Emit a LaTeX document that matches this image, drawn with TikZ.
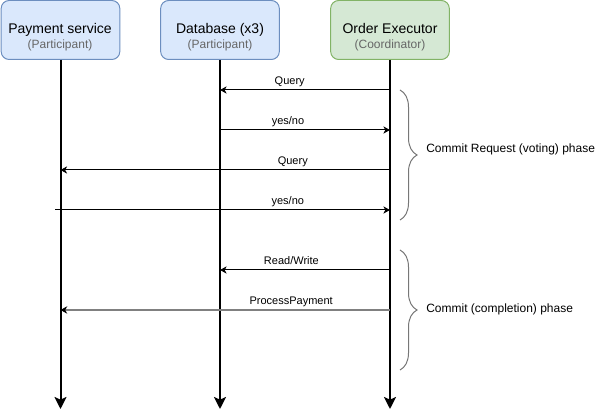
\documentclass[tikz,border=0pt]{standalone}
\usepackage{fontspec}
\setmainfont{Liberation Sans}
\usetikzlibrary{arrows.meta,positioning,decorations.pathreplacing}
\definecolor{partfill}{HTML}{DAE8FC}
\definecolor{partline}{HTML}{6C8EBF}
\definecolor{coordfill}{HTML}{D5E8D4}
\definecolor{coordline}{HTML}{82B366}
\definecolor{rolegray}{HTML}{666666}
\definecolor{bracegray}{HTML}{777777}
\definecolor{paygray}{HTML}{808080}
\tikzset{
  actor/.style={rounded corners=6pt, line width=0.75pt, minimum width=89pt, minimum height=44.25pt},
  actortitle/.style={anchor=base, inner sep=0pt, font=\fontsize{10.5}{12}\selectfont},
  actorrole/.style={anchor=base, inner sep=0pt, text=rolegray, font=\fontsize{9}{10}\selectfont},
  lifeline/.style={line width=1.5pt, -{Stealth[length=9pt, width=9pt, inset=2pt]}},
  msg/.style={line width=0.75pt, -{Stealth[length=5pt, width=5.5pt, inset=1.5pt, color=black]}},
  msglabel/.style={anchor=base, inner sep=0pt, yshift=4pt, font=\fontsize{8.25}{10}\selectfont},
  phase/.style={decorate, decoration={brace, amplitude=12.75pt}, draw=bracegray, line width=0.75pt},
  phaselabel/.style={anchor=west, inner sep=0pt, font=\fontsize{9}{10}\selectfont}
}
\begin{document}
\begin{tikzpicture}[x=0.75pt,y=-0.75pt]
  \useasboundingbox (0,0) rectangle (601,420);

  % participants
  \node[actor, draw=partline, fill=partfill] (pay) at (60.5,30) {};
  \node[actor, draw=partline, fill=partfill] (db) at (220,30) {};
  \node[actor, draw=coordline, fill=coordfill] (oe) at (390,30) {};

  \node[actortitle] (pay-title) at (60,34) {Payment service};
  \node[actorrole] (pay-role) at (60,49) {(Participant)};
  \node[actortitle] (db-title) at (220,34) {Database (x3)};
  \node[actorrole] (db-role) at (220,49) {(Participant)};
  \node[actortitle] (oe-title) at (390,34) {Order Executor};
  \node[actorrole] (oe-role) at (390,49) {(Coordinator)};

  % lifelines
  \coordinate (bottom) at (0,409);
  \draw[lifeline] (pay) -- (pay |- bottom);
  \draw[lifeline] (db) -- (db |- bottom);
  \draw[lifeline] (oe) -- (oe |- bottom);

  % messages
  \coordinate (m1) at (0,90);
  \coordinate (m2) at (0,130);
  \coordinate (m3) at (0,170);
  \coordinate (m4) at (55,210);
  \coordinate (m5) at (0,270);
  \coordinate (m6) at (0,310);

  \draw[msg] (oe |- m1) -- node[msglabel, pos=0.59] {Query} (db |- m1);
  \draw[msg] (db |- m2) -- node[msglabel, pos=0.4] {yes/no} (oe |- m2);
  \draw[msg] (oe |- m3) -- node[msglabel, pos=0.295] {Query} (pay |- m3);
  \draw[msg] (m4) -- node[msglabel, pos=0.695] {yes/no} (oe |- m4);
  \draw[msg] (oe |- m5) -- node[msglabel, pos=0.58] {Read/Write} (db |- m5);
  \draw[msg, draw=paygray, line width=1.5pt] (oe |- m6) -- node[msglabel, pos=0.3] {ProcessPayment} (pay |- m6);

  % phases
  \coordinate (p1-top) at (400,90);
  \coordinate (p1-bot) at (400,220);
  \coordinate (p2-top) at (400,250);
  \coordinate (p2-bot) at (400,370);
  \draw[phase] (p1-top) -- (p1-bot);
  \draw[phase] (p2-top) -- (p2-bot);
  \node[phaselabel] (p1-label) at (426,149) {Commit Request (voting) phase};
  \node[phaselabel] (p2-label) at (426,309) {Commit (completion) phase};
\end{tikzpicture}
\end{document}
